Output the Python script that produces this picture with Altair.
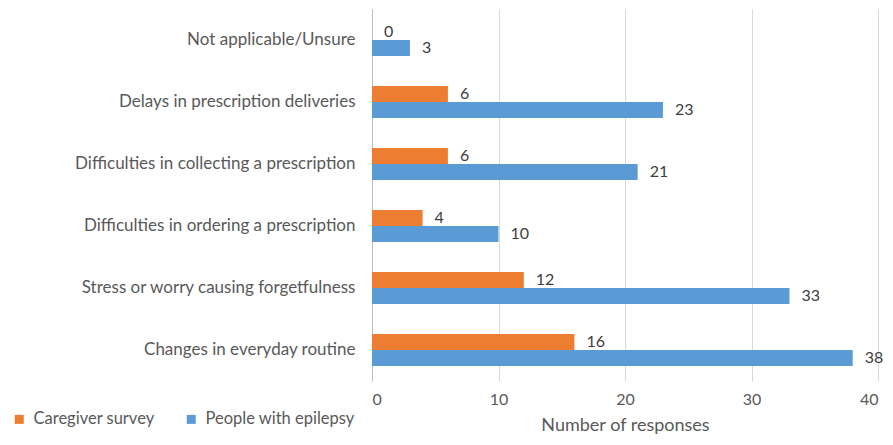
import altair as alt
import pandas as pd

categories = [
    "Not applicable/Unsure",
    "Delays in prescription deliveries",
    "Difficulties in collecting a prescription",
    "Difficulties in ordering a prescription",
    "Stress or worry causing forgetfulness",
    "Changes in everyday routine",
]
caregiver = [0, 6, 6, 4, 12, 16]
epilepsy = [3, 23, 21, 10, 33, 38]
series = ["Caregiver survey", "People with epilepsy"]
colors = ["#ED7D31", "#5B9BD5"]

rows = []
for c, a, b in zip(categories, caregiver, epilepsy):
    rows.append({"category": c, "series": series[0], "value": a})
    rows.append({"category": c, "series": series[1], "value": b})
df = pd.DataFrame(rows)

FONT = "Lato"

y = alt.Y("category:N", sort=categories,
          scale=alt.Scale(paddingInner=0.484, paddingOuter=0.242),
          axis=alt.Axis(title=None, labelFontSize=17, labelColor="#595959",
                        labelPadding=17, ticks=False, domainColor="#bfbfbf",
                        labelLimit=400))
yoff = alt.YOffset("series:N", sort=series)

bars = alt.Chart(df).mark_bar().encode(
    y=y,
    yOffset=yoff,
    x=alt.X("value:Q", scale=alt.Scale(domain=[0, 40], nice=False),
            axis=alt.Axis(values=[0, 10, 20, 30, 40], title="Number of responses",
                          titleFontSize=18, titleFontWeight="normal", titleColor="#595959",
                          titlePadding=9, labelFontSize=16, labelColor="#595959",
                          labelPadding=10, ticks=False, domain=False,
                          gridColor="#d9d9d9", grid=True)),
    color=alt.Color("series:N", sort=series,
                    scale=alt.Scale(domain=series, range=colors),
                    legend=alt.Legend(title=None, orient="none", direction="horizontal",
                                      legendX=-361, legendY=402, symbolType="square",
                                      symbolSize=81, symbolStrokeWidth=0,
                                      labelFontSize=16.5, labelColor="#595959",
                                      columnPadding=28, labelOffset=6)),
)

labels = alt.Chart(df).mark_text(align="left", baseline="middle", dx=12,
                                 fontSize=16, color="#404040", font=FONT).encode(
    y=alt.Y("category:N", sort=categories),
    yOffset=yoff,
    x="value:Q",
    text="value:Q",
)

chart = (bars + labels).properties(
    width=506, height=372,
    autosize=alt.AutoSizeParams(type="none"),
    padding={"left": 364, "top": 1, "right": 7, "bottom": 53},
).configure(font=FONT).configure_view(stroke=None)

chart.save("out.html", embed_options={"renderer": "svg", "actions": False})
